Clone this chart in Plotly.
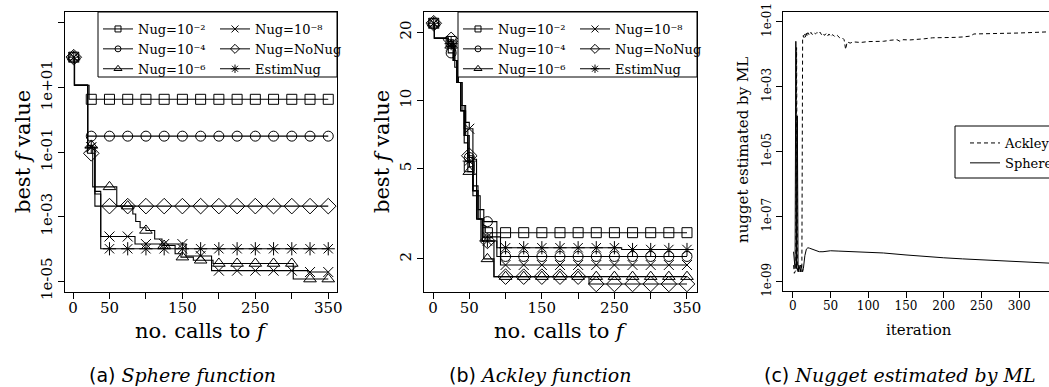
import plotly.graph_objects as go

W, H = 1049, 387

# ---------------- data ----------------
MARK_X = [1, 25, 50, 75, 100, 125, 150, 175, 200, 225, 250, 275, 300, 325, 350]

LABELS = ["Nug=10\u207b\u00b2", "Nug=10\u207b\u2074", "Nug=10\u207b\u2076",
          "Nug=10\u207b\u2078", "Nug=NoNug", "EstimNug"]

# (a) Sphere function: best f value (step breakpoints)
sph_n2_x = [1, 2, 22, 350]
sph_n2_y = [87, 11.7, 4.3, 4.3]
sph_n4_x = [1, 2, 20, 350]
sph_n4_y = [87, 11.7, 0.31, 0.31]
sph_n6_x = [1, 2, 20, 27, 60, 82, 86, 92, 100, 112, 122, 140, 148, 165, 192, 302, 350]
sph_n6_y = [87, 11.7, 0.16, 0.0083, 0.0021, 0.0012, 7e-4, 4.5e-4, 3.7e-4, 2e-4, 1.26e-4,
            7e-5, 5.5e-5, 4.4e-5, 3.5e-5, 1.15e-5, 1.15e-5]
sph_n8_x = [1, 2, 20, 30, 38, 85, 155, 190, 322, 350]
sph_n8_y = [87, 11.7, 0.14, 0.005, 2.4e-4, 1.4e-4, 6e-5, 2.1e-5, 1.9e-5, 1.9e-5]
sph_nn_x = [1, 2, 20, 30, 350]
sph_nn_y = [87, 11.7, 0.091, 0.0021, 0.0021]
sph_es_x = [1, 2, 20, 30, 38, 350]
sph_es_y = [87, 11.7, 0.14, 0.006, 1.0e-4, 1.0e-4]

# (b) Ackley function: best f value (step breakpoints)
ack_n2_x = [1, 2, 21, 26, 30, 35, 40, 45, 50, 55, 60, 68, 72, 350]
ack_n2_y = [21.9, 18.8, 18.2, 17.0, 14, 12, 9, 7, 5.1, 4, 3.0, 2.8, 2.61, 2.61]
ack_n4_x = [1, 2, 21, 28, 33, 38, 43, 48, 55, 62, 70, 88, 350]
ack_n4_y = [21.9, 18.8, 16.2, 15, 12, 9.5, 7.5, 5.6, 4.2, 3.3, 2.92, 2.05, 2.05]
ack_n6_x = [1, 2, 21, 28, 33, 38, 43, 48, 55, 60, 66, 70, 84, 350]
ack_n6_y = [21.9, 18.8, 17.5, 15, 12, 9, 6.5, 4.85, 3.8, 3.0, 2.4, 2.0, 1.67, 1.67]
ack_n8_x = [1, 2, 21, 30, 35, 40, 45, 50, 55, 60, 65, 70, 93, 350]
ack_n8_y = [21.9, 18.8, 17.5, 15, 12, 9.5, 8, 7.5, 5.5, 3.8, 3.0, 2.5, 1.88, 1.88]
ack_nn_x = [1, 2, 21, 28, 33, 38, 43, 48, 55, 62, 68, 84, 215, 350]
ack_nn_y = [21.9, 18.8, 18.5, 15, 12, 9, 7, 5.7, 4, 3.0, 2.4, 1.67, 1.55, 1.55]
ack_es_x = [1, 2, 21, 28, 33, 38, 43, 48, 55, 62, 68, 88, 260, 350]
ack_es_y = [21.9, 18.8, 17.8, 15, 12, 9, 7, 5.4, 4, 3.0, 2.4, 2.24, 2.2, 2.2]

# (c) nugget estimated by ML
nug_ack_x = [1, 2, 3, 4, 5, 6, 7, 8, 9, 10, 11, 12, 13, 14, 15, 16, 17, 18, 19, 20,
             22, 24, 26, 28, 30, 32, 34, 36, 38, 40, 42, 44, 46, 48, 50, 53, 56, 59,
             62, 65, 68, 70, 72, 76, 80, 90, 100, 110, 120, 130, 138, 142, 146, 155,
             165, 175, 185, 195, 205, 215, 225, 235, 240, 250, 265, 280, 300, 320, 340]
nug_ack_y = [3.2e-9, 1.8e-9, 2e-9, 2.5e-9, 0.016, 2.2e-9, 2.8e-9, 2e-9, 2.5e-9, 3.2e-9,
             2e-9, 2.8e-9, 0.028, 0.038, 0.032, 0.042, 0.033, 0.044, 0.035, 0.046,
             0.038, 0.047, 0.040, 0.046, 0.042, 0.047, 0.043, 0.048, 0.040, 0.045,
             0.038, 0.043, 0.036, 0.042, 0.035, 0.040, 0.034, 0.038,
             0.032, 0.033, 0.028, 0.014, 0.024, 0.022, 0.024, 0.023, 0.0245, 0.025,
             0.025, 0.027, 0.028, 0.025, 0.028, 0.0275,
             0.028, 0.030, 0.032, 0.032, 0.0325, 0.033, 0.034, 0.036, 0.042, 0.042,
             0.043, 0.044, 0.045, 0.047, 0.049]
nug_sph_x = [1, 2, 3, 4, 5, 6, 7, 8, 9, 10, 11, 12, 13, 14, 15, 16, 18, 20, 22, 25, 30,
             35, 40, 45, 50, 60, 70, 80, 100, 120, 150, 175, 200, 225, 250, 275, 300,
             325, 340]
nug_sph_y = [8.3e-9, 3.2e-9, 2.5e-9, 0.025, 2.5e-9, 1.26e-4, 2.0e-9, 3.2e-9, 2.5e-9,
             2.0e-9, 3.2e-9, 2.5e-9, 2.0e-9, 2.5e-9, 4.0e-9, 6.3e-9, 1.0e-8, 1.1e-8,
             1.07e-8, 1.0e-8, 8.9e-9, 8.3e-9, 8.3e-9, 8.5e-9, 8.9e-9, 8.7e-9, 8.5e-9,
             8.3e-9, 8.1e-9, 7.6e-9, 6.6e-9, 5.9e-9, 5.4e-9, 5.0e-9, 4.7e-9, 4.4e-9,
             4.2e-9, 3.9e-9, 3.7e-9]

# tick labels
ab_xticks = [0, 50, 100, 150, 200, 250, 300, 350]
ab_xtext = ["0", "50", "", "150", "", "250", "", "350"]
a_yticks = [1e3, 1e1, 1e-1, 1e-3, 1e-5]
a_ytext = ["", "1e+01", "1e-01", "1e-03", "1e-05"]
b_yticks = [2, 5, 10, 20]
b_ytext = ["2", "5", "10", "20"]
c_xticks = [0, 50, 100, 150, 200, 250, 300, 350]
c_xtext = ["0", "50", "100", "150", "200", "250", "300", "350"]
c_yticks = [1e-1, 1e-3, 1e-5, 1e-7, 1e-9]
c_ytext = ["1e-01", "1e-03", "1e-05", "1e-07", "1e-09"]

# ---------------- styles ----------------
SYMBOLS = ["square-open", "circle-open", "triangle-up-open", "x-thin-open",
           "diamond-open", "asterisk-open"]
SIZES = [10, 10, 11, 10, 12, 11]
LEG_SIZES = [6, 6, 7, 7, 7, 7]
SERIF = "DejaVu Serif"


def px(x):
    return x / W


def py(y):
    return 1 - y / H


def step_at(xs, ys, x0):
    v = ys[0]
    for xx, yy in zip(xs, ys):
        if xx <= x0:
            v = yy
    return v


fig = go.Figure()

sphere = [(sph_n2_x, sph_n2_y), (sph_n4_x, sph_n4_y), (sph_n6_x, sph_n6_y),
          (sph_n8_x, sph_n8_y), (sph_nn_x, sph_nn_y), (sph_es_x, sph_es_y)]
ackley = [(ack_n2_x, ack_n2_y), (ack_n4_x, ack_n4_y), (ack_n6_x, ack_n6_y),
          (ack_n8_x, ack_n8_y), (ack_nn_x, ack_nn_y), (ack_es_x, ack_es_y)]

legend_ids = {("x", "y"): ("legend", "legend2"), ("x2", "y2"): ("legend3", "legend4")}

for data, xa, ya in [(sphere, "x", "y"), (ackley, "x2", "y2")]:
    for i, (xs, ys) in enumerate(data):
        fig.add_trace(go.Scatter(x=xs, y=ys, mode="lines", line_shape="hv",
                                 line=dict(color="black", width=1.1),
                                 xaxis=xa, yaxis=ya, showlegend=False, hoverinfo="skip"))
        my = [step_at(xs, ys, m) for m in MARK_X]
        fig.add_trace(go.Scatter(x=MARK_X, y=my, mode="markers",
                                 marker=dict(symbol=SYMBOLS[i], size=SIZES[i], color="black",
                                             line=dict(color="black", width=1)),
                                 xaxis=xa, yaxis=ya, showlegend=False, hoverinfo="skip"))
    l1, l2 = legend_ids[(xa, ya)]
    for i in range(6):
        fig.add_trace(go.Scatter(x=[None], y=[None], mode="lines+markers", name=LABELS[i],
                                 line=dict(color="black", width=1),
                                 marker=dict(symbol=SYMBOLS[i], size=LEG_SIZES[i], color="black",
                                             line=dict(color="black", width=1)),
                                 xaxis=xa, yaxis=ya, legend=l1 if i < 3 else l2))

fig.add_trace(go.Scatter(x=nug_ack_x, y=nug_ack_y, mode="lines", name="Ackley",
                         line=dict(color="black", width=1, dash="4px,3px"),
                         xaxis="x3", yaxis="y3", legend="legend5"))
fig.add_trace(go.Scatter(x=nug_sph_x, y=nug_sph_y, mode="lines", name="Sphere",
                         line=dict(color="black", width=1),
                         xaxis="x3", yaxis="y3", legend="legend5"))

axis_common = dict(showgrid=False, zeroline=False, showline=True, linecolor="black",
                   linewidth=1, ticks="outside", ticklen=6, tickwidth=1, tickcolor="black")
tf = dict(family=SERIF, size=15, color="black")
tfc = dict(family=SERIF, size=12, color="black")

ydom = [py(292), py(12)]
fig.update_layout(
    width=W, height=H, margin=dict(l=0, r=0, t=0, b=0, autoexpand=False),
    plot_bgcolor="white", paper_bgcolor="white",
    xaxis=dict(domain=[px(65), px(337)], range=[-11, 362], tickvals=ab_xticks,
               ticktext=ab_xtext, tickfont=tf, mirror=True, anchor="y",
               ticklabelstandoff=-4, **axis_common),
    yaxis=dict(domain=ydom, type="log", range=[-5.34, 3.34], tickvals=a_yticks,
               ticktext=a_ytext, tickangle=-90, tickfont=tf, mirror=True, anchor="x",
               **axis_common),
    xaxis2=dict(domain=[px(424), px(697)], range=[-12.4, 363.8], tickvals=ab_xticks,
                ticktext=ab_xtext, tickfont=tf, mirror=True, anchor="y2",
                ticklabelstandoff=-4, **axis_common),
    yaxis2=dict(domain=ydom, type="log", range=[0.155, 1.39], tickvals=b_yticks,
                ticktext=b_ytext, tickangle=-90, tickfont=tf, mirror=True, anchor="x2",
                **axis_common),
    xaxis3=dict(domain=[px(783), 1], range=[-13, 339.5], tickvals=c_xticks,
                ticktext=c_xtext, tickfont=tfc, mirror=True, anchor="y3",
                ticklabelstandoff=-2, **axis_common),
    yaxis3=dict(domain=[py(291), py(12)], type="log", range=[-9.29, -0.70],
                tickvals=c_yticks, ticktext=c_ytext, tickangle=-90, tickfont=tfc,
                anchor="x3", **axis_common),
)

leg_common = dict(bgcolor="rgba(0,0,0,0)", borderwidth=0,
                  font=dict(family=SERIF, size=13, color="black"),
                  xanchor="left", yanchor="top", tracegroupgap=0, itemwidth=30,
                  orientation="v")
fig.update_layout(
    legend=dict(x=px(98), y=py(14), **leg_common),
    legend2=dict(x=px(215), y=py(14), **leg_common),
    legend3=dict(x=px(458), y=py(14), **leg_common),
    legend4=dict(x=px(575), y=py(14), **leg_common),
    legend5=dict(x=px(965), y=py(128), **leg_common),
)

shapes = [
    dict(type="rect", xref="paper", yref="paper", x0=px(98), x1=px(337), y0=py(77), y1=py(12),
         line=dict(color="black", width=1), fillcolor="white", layer="above"),
    dict(type="rect", xref="paper", yref="paper", x0=px(458), x1=px(697), y0=py(77), y1=py(12),
         line=dict(color="black", width=1), fillcolor="white", layer="above"),
    dict(type="rect", xref="paper", yref="paper", x0=px(955), x1=px(1060), y0=py(178), y1=py(126),
         line=dict(color="black", width=1), fillcolor="white", layer="above"),
]
fig.update_layout(shapes=shapes)

ann = []


def add_text(text, x, y, size, angle=0, family=SERIF):
    ann.append(dict(text=text, x=px(x), y=py(y), xref="paper", yref="paper", showarrow=False,
                    xanchor="center", yanchor="middle", textangle=angle,
                    font=dict(family=family, size=size, color="black")))


add_text("best <i>f</i> value", 23, 152, 21, -90)
add_text("no. calls to <i>f</i>", 201, 331, 21)
add_text("best <i>f</i> value", 382, 152, 21, -90)
add_text("no. calls to <i>f</i>", 560, 331, 21)
add_text("nugget estimated by ML", 743, 150, 15, -90)
add_text("iteration", 919, 330, 15)
add_text('<span style="font-family:DejaVu Sans">(a)</span> <i>Sphere function</i>', 182, 375, 19)
add_text('<span style="font-family:DejaVu Sans">(b)</span> <i>Ackley function</i>', 540, 375, 19)
add_text('<span style="font-family:DejaVu Sans">(c)</span> <i>Nugget estimated by ML</i>', 900, 375, 19)
fig.update_layout(annotations=ann)

fig.write_html("out.html")
